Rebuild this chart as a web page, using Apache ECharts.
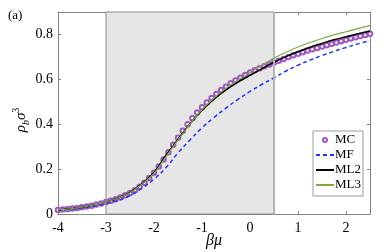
<!DOCTYPE html>
<html>
<head>
<meta charset="utf-8">
<script src="https://cdn.jsdelivr.net/npm/echarts@6/dist/echarts.min.js"></script>
<style>html,body{margin:0;padding:0;background:#fff}#c{width:390px;height:252px}</style>
</head>
<body>
<div id="c"></div>
<script>
// beta*mu values for Monte Carlo points
const mcX = [-4.0,-3.9,-3.8,-3.7,-3.6,-3.5,-3.4,-3.3,-3.2,-3.1,-3.0,-2.9,-2.8,-2.7,-2.6,-2.5,-2.4,-2.3,-2.2,-2.1,-2.0,-1.9,-1.8,-1.7,-1.6,-1.5,-1.4,-1.3,-1.2,-1.1,-1.0,-0.9,-0.8,-0.7,-0.6,-0.5,-0.4,-0.3,-0.2,-0.1,0.0,0.1,0.2,0.3,0.4,0.5,0.6,0.7,0.8,0.9,1.0,1.1,1.2,1.3,1.4,1.5,1.6,1.7,1.8,1.9,2.0,2.1,2.2,2.3,2.4,2.5];
const mcY = [0.018,0.020,0.022,0.024,0.027,0.030,0.033,0.037,0.042,0.047,0.053,0.059,0.066,0.074,0.083,0.094,0.106,0.121,0.139,0.160,0.184,0.212,0.243,0.275,0.308,0.340,0.371,0.400,0.427,0.452,0.476,0.497,0.517,0.535,0.552,0.567,0.582,0.595,0.607,0.619,0.630,0.640,0.649,0.658,0.666,0.675,0.683,0.691,0.699,0.707,0.714,0.721,0.728,0.734,0.740,0.746,0.752,0.758,0.764,0.770,0.776,0.782,0.787,0.793,0.798,0.803];
// beta*mu values for the model curves
const curveX = [-4.0,-3.75,-3.5,-3.25,-3.0,-2.75,-2.5,-2.25,-2.0,-1.75,-1.5,-1.25,-1.0,-0.75,-0.5,-0.25,0.0,0.25,0.5,0.75,1.0,1.25,1.5,1.75,2.0,2.25,2.5];
const mfY  = [0.017,0.021,0.027,0.035,0.046,0.061,0.082,0.115,0.155,0.207,0.272,0.330,0.384,0.430,0.472,0.511,0.546,0.578,0.607,0.637,0.663,0.686,0.706,0.725,0.742,0.758,0.772];
const ml2Y = [0.018,0.023,0.030,0.040,0.053,0.071,0.096,0.135,0.185,0.262,0.333,0.402,0.462,0.512,0.553,0.588,0.618,0.648,0.676,0.701,0.723,0.743,0.760,0.776,0.790,0.803,0.815];
const ml3Y = [0.018,0.023,0.030,0.040,0.053,0.071,0.095,0.133,0.181,0.256,0.330,0.402,0.465,0.517,0.560,0.597,0.629,0.663,0.695,0.721,0.744,0.764,0.782,0.798,0.812,0.826,0.839];
const trainingRange = [-3, 0.5];
const seriesNames = ['MC','MF','ML2','ML3'];
const xTicks = {min:-4, max:2.5, interval:1};
const yTicks = {min:0, max:0.9, interval:0.2};

const pairs = (xs, ys) => xs.map((x,i)=>[x, ys[i]]);
const serif = 'Liberation Serif';
const axisGray = '#858585';

const baseX = {
  type:'value', min:xTicks.min, max:xTicks.max, interval:xTicks.interval,
  axisLine:{show:true, onZero:false, lineStyle:{color:axisGray, width:1}},
  axisTick:{show:true, inside:true, length:3, lineStyle:{color:axisGray}},
  splitLine:{show:false}
};
const baseY = {
  type:'value', min:yTicks.min, max:yTicks.max, interval:yTicks.interval,
  axisLine:{show:true, onZero:false, lineStyle:{color:axisGray, width:1}},
  axisTick:{show:true, inside:true, length:3, lineStyle:{color:axisGray}},
  splitLine:{show:false}
};

const chart = echarts.init(document.getElementById('c'), null, {renderer:'canvas'});
chart.setOption({
  animation:false,
  backgroundColor:'#fff',
  grid:{left:58, right:20, top:12, bottom:38, containLabel:false},
  xAxis:[
    Object.assign({}, baseX, {position:'bottom',
      axisLabel:{show:true, margin:7, color:'#000', fontFamily:serif, fontSize:14, showMaxLabel:false,
        formatter:v=>String(v)}}),
    Object.assign({}, baseX, {position:'top', axisLabel:{show:false}})
  ],
  yAxis:[
    Object.assign({}, baseY, {position:'left',
      axisLabel:{show:true, margin:5, color:'#000', fontFamily:serif, fontSize:14, showMaxLabel:false,
        formatter:v=> v===0 ? '0' : v.toFixed(1)}}),
    Object.assign({}, baseY, {position:'right', axisLabel:{show:false}})
  ],
  legend:{
    orient:'vertical', right:27, top:131,
    data:[
      {name:seriesNames[0], itemStyle:{borderWidth:1}},
      {name:seriesNames[1], itemStyle:{opacity:0}},
      {name:seriesNames[2], itemStyle:{opacity:0}},
      {name:seriesNames[3], itemStyle:{opacity:0}}
    ],
    itemWidth:18, itemHeight:5, itemGap:1,
    padding:[2,2,4,2],
    backgroundColor:'#fff', borderColor:'#9a9a9a', borderWidth:1, borderRadius:0,
    textStyle:{fontFamily:serif, fontSize:13, color:'#000', lineHeight:14, padding:[0,0,0,-4]}
  },
  graphic:[
    {type:'text', left:8, top:9, style:{text:'(a)', font:'13px "Liberation Serif"', fill:'#000'}},
    {type:'text', x:118, y:26, style:{text:'Training Set', font:'15px "Liberation Serif"', fill:'#1a1a1a', verticalAlign:'middle'}},
    {type:'text', x:214, y:241, style:{text:'βμ', font:'italic 16px "Liberation Serif"', fill:'#000', align:'center', verticalAlign:'middle'}},
    {type:'text', x:21, y:120, rotation:Math.PI/2,
      style:{text:'{i|ρ}{s|b}{i|σ}{p|3}', align:'center', verticalAlign:'middle', fill:'#000',
        rich:{
          i:{fontFamily:serif, fontStyle:'italic', fontSize:15, lineHeight:20, verticalAlign:'middle'},
          s:{fontFamily:serif, fontStyle:'italic', fontSize:10, lineHeight:20, verticalAlign:'bottom'},
          p:{fontFamily:serif, fontSize:10, lineHeight:20, verticalAlign:'top'}
        }}}
  ],
  series:[
    {
      name:'train', type:'line', data:[], silent:true, z:0,
      markArea:{silent:true, itemStyle:{color:'#e6e6e6', borderColor:'#8c8c8c', borderWidth:1},
        data:[[{xAxis:trainingRange[0]},{xAxis:trainingRange[1]}]]},
      markLine:{silent:true, symbol:['none','none'], label:{show:false},
        lineStyle:{color:'#b4b4b4', width:2, type:'solid'},
        data:[{xAxis:trainingRange[1]}]}
    },
    {
      name:'MC', type:'line', data:pairs(mcX, mcY),
      symbol:'emptyCircle', symbolSize:4.5, showSymbol:true,
      itemStyle:{color:'#a058c0', borderWidth:1},
      lineStyle:{width:0, opacity:0}, z:2
    },
    {
      name:'MF', type:'line', data:pairs(curveX, mfY), smooth:0.4, symbol:'none',
      lineStyle:{color:'#2233ff', width:1.5, type:[4,3]}, itemStyle:{color:'#2233ff'}, z:3
    },
    {
      name:'ML2', type:'line', data:pairs(curveX, ml2Y), smooth:0.4, symbol:'none',
      lineStyle:{color:'#000', width:1.5}, itemStyle:{color:'#000'}, z:4
    },
    {
      name:'ML3', type:'line', data:pairs(curveX, ml3Y), smooth:0.4, symbol:'none',
      lineStyle:{color:'#77ac3f', width:1.2}, itemStyle:{color:'#77ac3f'}, z:5
    }
  ]
});
</script>
</body>
</html>
